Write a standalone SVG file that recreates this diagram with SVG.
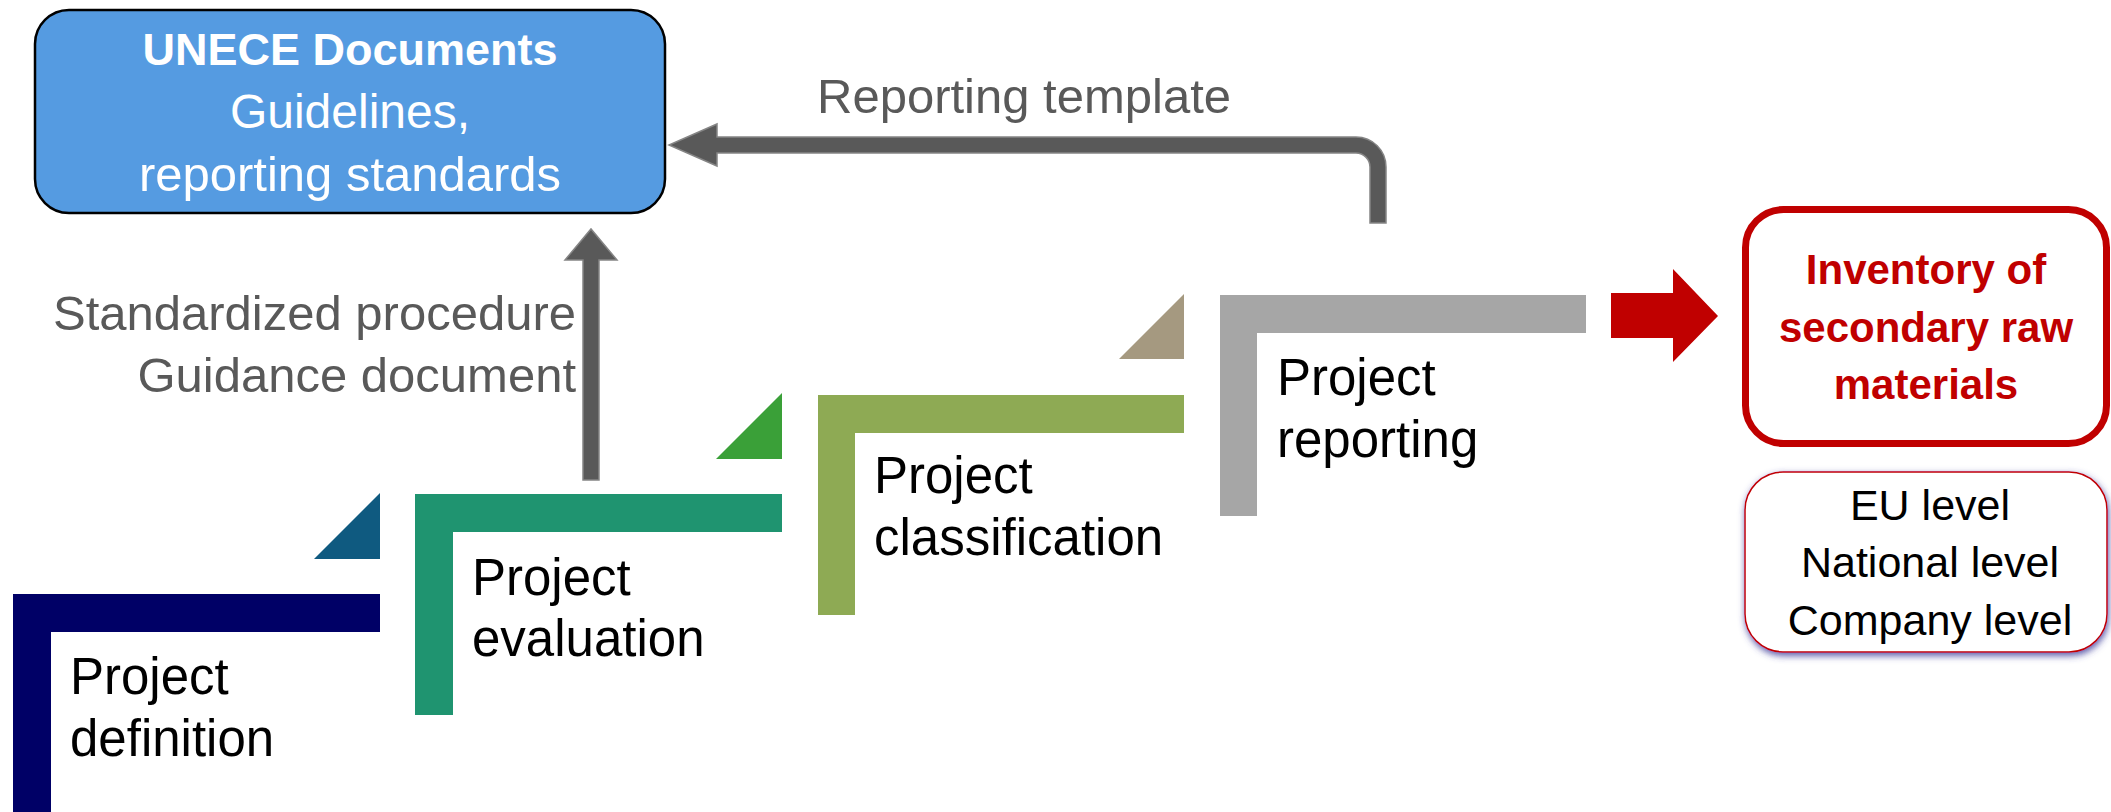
<svg xmlns="http://www.w3.org/2000/svg" width="2111" height="812" viewBox="0 0 2111 812">
<defs>
<style>
text{font-family:"Liberation Sans",Arial,sans-serif}
.step{font-size:51px;fill:#000}
.lbl{font-size:49px;fill:#595959}
.arr{fill:#595959;stroke:#858585;stroke-width:1.5}
</style>
<filter id="sh" x="-10%" y="-10%" width="120%" height="130%">
<feDropShadow dx="1" dy="3" stdDeviation="3.5" flood-color="#3c3c9a" flood-opacity="0.85"/>
</filter>
</defs>
<rect width="2111" height="812" fill="#fff"/>

<g id="unece">
<rect x="35" y="10" width="630" height="203" rx="34" fill="#559BE1" stroke="#000" stroke-width="2.5"/>
<text x="350" y="65" text-anchor="middle" font-size="45" font-weight="bold" fill="#fff">UNECE Documents</text>
<text x="350" y="128" text-anchor="middle" font-size="48" fill="#fff">Guidelines,</text>
<text x="350" y="191" text-anchor="middle" font-size="49" fill="#fff">reporting standards</text>
</g>

<g id="step-definition">
<path d="M13,594H380V632H51V812H13Z" fill="#000066"/>
<text class="step" x="70" y="694">Project</text>
<text class="step" x="70" y="756">definition</text>
</g>

<g id="step-evaluation">
<polygon points="380,493 314,559 380,559" fill="#0F5A80"/>
<path d="M415,494H782V532H453V715H415Z" fill="#1F9470"/>
<text class="step" x="472" y="595">Project</text>
<text class="step" x="472" y="656">evaluation</text>
</g>

<g id="step-classification">
<polygon points="782,393 716,459 782,459" fill="#3AA038"/>
<path d="M818,395H1184V433H855V615H818Z" fill="#8EAA54"/>
<text class="step" x="874" y="493">Project</text>
<text class="step" x="874" y="555">classification</text>
</g>

<g id="step-reporting">
<polygon points="1184,294 1119,359 1184,359" fill="#A59980"/>
<path d="M1220,295H1586V333H1257V516H1220Z" fill="#A6A6A6"/>
<text class="step" x="1277" y="395">Project</text>
<text class="step" x="1277" y="457">reporting</text>
</g>

<g id="inventory">
<rect x="1745.5" y="209.5" width="361" height="234" rx="38" fill="#fff" stroke="#C00000" stroke-width="7"/>
<text x="1926" y="284" text-anchor="middle" font-size="42" font-weight="bold" fill="#C00000">Inventory of</text>
<text x="1926" y="342" text-anchor="middle" font-size="42" font-weight="bold" fill="#C00000">secondary raw</text>
<text x="1926" y="399" text-anchor="middle" font-size="42" font-weight="bold" fill="#C00000">materials</text>
</g>

<g id="levels">
<rect x="1745" y="472" width="362" height="180" rx="38" fill="#fff" stroke="#C00000" stroke-width="1.5" filter="url(#sh)"/>
<text x="1930" y="520" text-anchor="middle" font-size="43" fill="#000">EU level</text>
<text x="1930" y="577" text-anchor="middle" font-size="43" fill="#000">National level</text>
<text x="1930" y="635" text-anchor="middle" font-size="43" fill="#000">Company level</text>
</g>

<g id="connectors">
<path class="arr" d="M717,137L1356,137A30,30 0 0 1 1386,167L1386,223L1370,223L1370,167A14,14 0 0 0 1356,153L717,153L717,166L669,145L717,124Z"/>
<text class="lbl" x="817" y="113">Reporting template</text>
<path class="arr" d="M583,480L583,260L565,260L591,229L617,260L599,260L599,480Z"/>
<text class="lbl" x="576" y="330" text-anchor="end">Standardized procedure</text>
<text class="lbl" x="576" y="392" text-anchor="end">Guidance document</text>
<path d="M1611,293L1673,293L1673,269L1718,316L1673,362L1673,338L1611,338Z" fill="#C00000"/>
</g>
</svg>
